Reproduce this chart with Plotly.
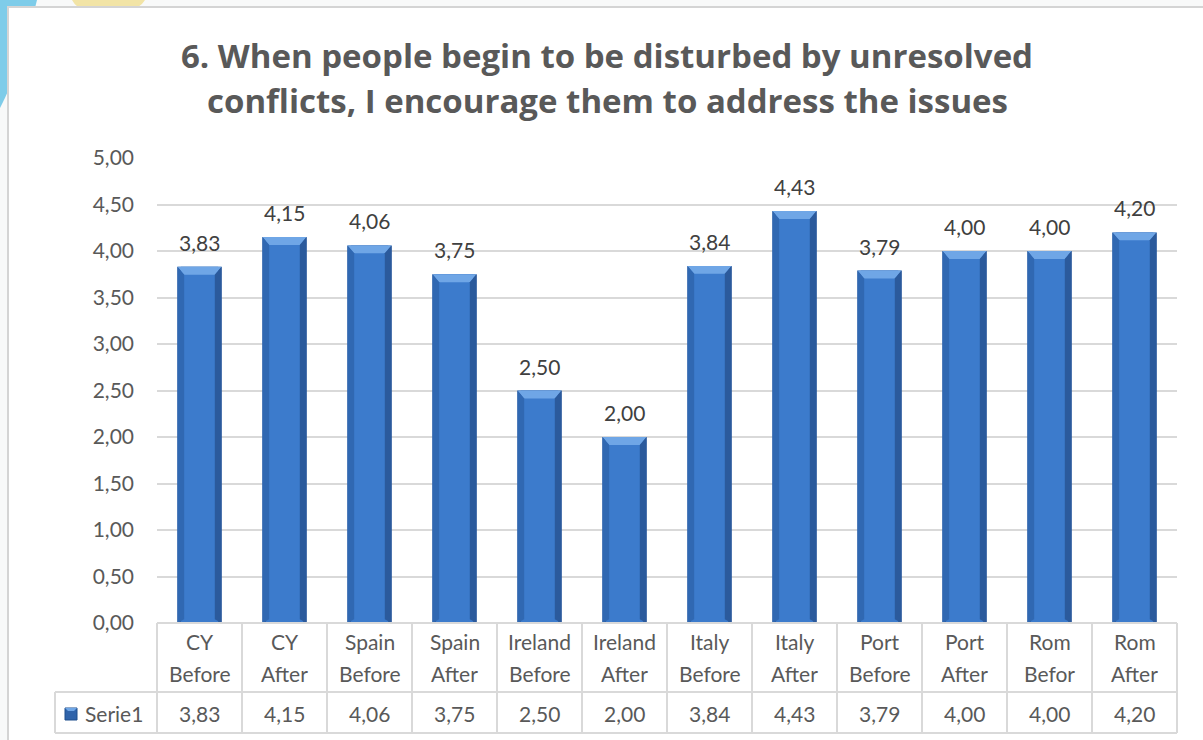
import plotly.graph_objects as go

# Chart data
categories = ["CY Before", "CY After", "Spain Before", "Spain After",
              "Ireland Before", "Ireland After", "Italy Before", "Italy After",
              "Port Before", "Port After", "Rom Befor", "Rom After"]
values = [3.83, 4.15, 4.06, 3.75, 2.50, 2.00, 3.84, 4.43, 3.79, 4.00, 4.00, 4.20]
series_name = "Serie1"
title_lines = ["6. When people begin to be disturbed by unresolved",
               "conflicts, I encourage them to address the issues"]
y_ticks = [0.0, 0.5, 1.0, 1.5, 2.0, 2.5, 3.0, 3.5, 4.0, 4.5, 5.0]

W, H = 1203, 740
L, R, T, B = 157, 26, 158, 117
PW, PH = W - L - R, H - T - B

def px(x):
    return (x - L) / PW

def py(y):
    return (H - B - y) / PH

def fmt(v):
    return f"{v:.2f}".replace(".", ",")

FONT = "Lato"
TXT = "#595959"
GRID = "#D9D9D9"
idx = list(range(len(categories)))

fig = go.Figure()
# bar body: darker outer edge, lighter inner face
fig.add_trace(go.Bar(x=idx, y=values, width=0.52, name=series_name,
                     marker=dict(color="#2B5B9E", line=dict(width=0)),
                     showlegend=False, hoverinfo="skip"))
fig.add_trace(go.Bar(x=idx, y=values, width=0.44,
                     marker=dict(color="#3C7BCC", line=dict(width=0)),
                     showlegend=False, hoverinfo="skip"))

shapes = []
annotations = []

# decorative background corners outside the frame (drawn first, under the frame)
shapes.append(dict(type="path", xref="paper", yref="paper", layer="below",
                   path=f"M {px(0)},{py(0)} L {px(37)},{py(0)} Q {px(20)},{py(70)} {px(0)},{py(108)} Z",
                   fillcolor="#7ECCE9", line=dict(width=0)))
shapes.append(dict(type="path", xref="paper", yref="paper", layer="below",
                   path=f"M {px(72)},{py(0)} L {px(145)},{py(0)} Q {px(142)},{py(5)} {px(138)},{py(7)} L {px(78)},{py(7)} Q {px(74)},{py(4)} {px(72)},{py(0)} Z",
                   fillcolor="#F2E4A6", line=dict(width=0)))
# chart frame
shapes.append(dict(type="rect", xref="paper", yref="paper", layer="below",
                   x0=px(8), x1=px(1215), y0=py(7), y1=py(760),
                   fillcolor="white", line=dict(color="#D4D4D4", width=2)))

# bevelled top and shaded sides of each bar
bev = 0.085
for i, v in zip(idx, values):
    hw = 0.26
    inset = 0.08
    shapes.append(dict(type="path", xref="x", yref="y", layer="above",
                       path=f"M {i-hw},{v} L {i+hw},{v} L {i+hw-inset},{v-bev} L {i-hw+inset},{v-bev} Z",
                       fillcolor="#6FA6E6", line=dict(width=0)))
    shapes.append(dict(type="path", xref="x", yref="y", layer="above",
                       path=f"M {i-hw},{v} L {i-hw+inset},{v-bev} L {i-hw+inset},{0.04} L {i-hw},{0} Z",
                       fillcolor="#3068B2", line=dict(width=0)))
    shapes.append(dict(type="path", xref="x", yref="y", layer="above",
                       path=f"M {i+hw},{v} L {i+hw-inset},{v-bev} L {i+hw-inset},{0.04} L {i+hw},{0} Z",
                       fillcolor="#2B5A9C", line=dict(width=0)))
    annotations.append(dict(x=i, y=v, xref="x", yref="y", text=fmt(v),
                            showarrow=False, yanchor="bottom", yshift=10,
                            font=dict(family=FONT, size=21, color="#404040")))

# data table under the plot
col_w = 85
tbl_top, tbl_mid, tbl_bot = 623, 692, 733
tl = dict(color=GRID, width=2)
shapes.append(dict(type="line", xref="paper", yref="paper", x0=px(L), x1=px(L + 12 * col_w),
                   y0=py(tbl_top), y1=py(tbl_top), line=tl))
for yy in (tbl_mid, tbl_bot):
    shapes.append(dict(type="line", xref="paper", yref="paper", x0=px(55), x1=px(L + 12 * col_w),
                       y0=py(yy), y1=py(yy), line=tl))
for k in range(13):
    xx = L + k * col_w
    shapes.append(dict(type="line", xref="paper", yref="paper", x0=px(xx), x1=px(xx),
                       y0=py(tbl_top), y1=py(tbl_bot), line=tl))
shapes.append(dict(type="line", xref="paper", yref="paper", x0=px(55), x1=px(55),
                   y0=py(tbl_mid), y1=py(tbl_bot), line=tl))

for i, (c, v) in enumerate(zip(categories, values)):
    for part, yy in zip(c.split(" "), (641, 673)):
        annotations.append(dict(x=i, xref="x", y=py(yy), yref="paper",
                                text=part, showarrow=False,
                                yanchor="middle", xanchor="center",
                                font=dict(family=FONT, size=21, color=TXT)))
    annotations.append(dict(x=i, xref="x", y=py(713), yref="paper",
                            text=fmt(v), showarrow=False,
                            yanchor="middle", xanchor="center",
                            font=dict(family=FONT, size=21, color=TXT)))

# legend key in the table
shapes.append(dict(type="rect", xref="paper", yref="paper", x0=px(65), x1=px(77),
                   y0=py(720), y1=py(708), fillcolor="#2F63AA", line=dict(color="#1F4E8C", width=1)))
shapes.append(dict(type="path", xref="paper", yref="paper",
                   path=f"M {px(65)},{py(708)} L {px(77)},{py(708)} L {px(74)},{py(711)} L {px(68)},{py(711)} Z",
                   fillcolor="#6FA6E6", line=dict(width=0)))
annotations.append(dict(x=px(83), y=py(713), xref="paper", yref="paper", text=series_name,
                        showarrow=False, xanchor="left", yanchor="middle",
                        font=dict(family=FONT, size=21, color=TXT)))

# title
for line, yy in zip(title_lines, (55, 100)):
    annotations.append(dict(x=px(607), y=py(yy), xref="paper", yref="paper",
                            text="<b>" + line + "</b>", showarrow=False,
                            font=dict(family="Open Sans", size=33, color=TXT),
                            xanchor="center", yanchor="middle"))

fig.update_layout(
    width=W, height=H,
    margin=dict(l=L, r=R, t=T, b=B),
    paper_bgcolor="#F8F9F9", plot_bgcolor="rgba(0,0,0,0)",
    barmode="overlay", separators=",.",
    showlegend=False,
    shapes=shapes, annotations=annotations,
    xaxis=dict(range=[-0.5, len(categories) - 0.5], showticklabels=False,
               showgrid=False, zeroline=False, showline=False, ticks=""),
    yaxis=dict(range=[0, 5], tickvals=y_ticks, tickformat=".2f",
               showgrid=True, gridcolor=GRID, gridwidth=1.5, zeroline=False,
               showline=False, ticks="", ticklabelstandoff=22,
               tickfont=dict(family=FONT, size=21, color=TXT)),
)

fig.write_html("out.html")
